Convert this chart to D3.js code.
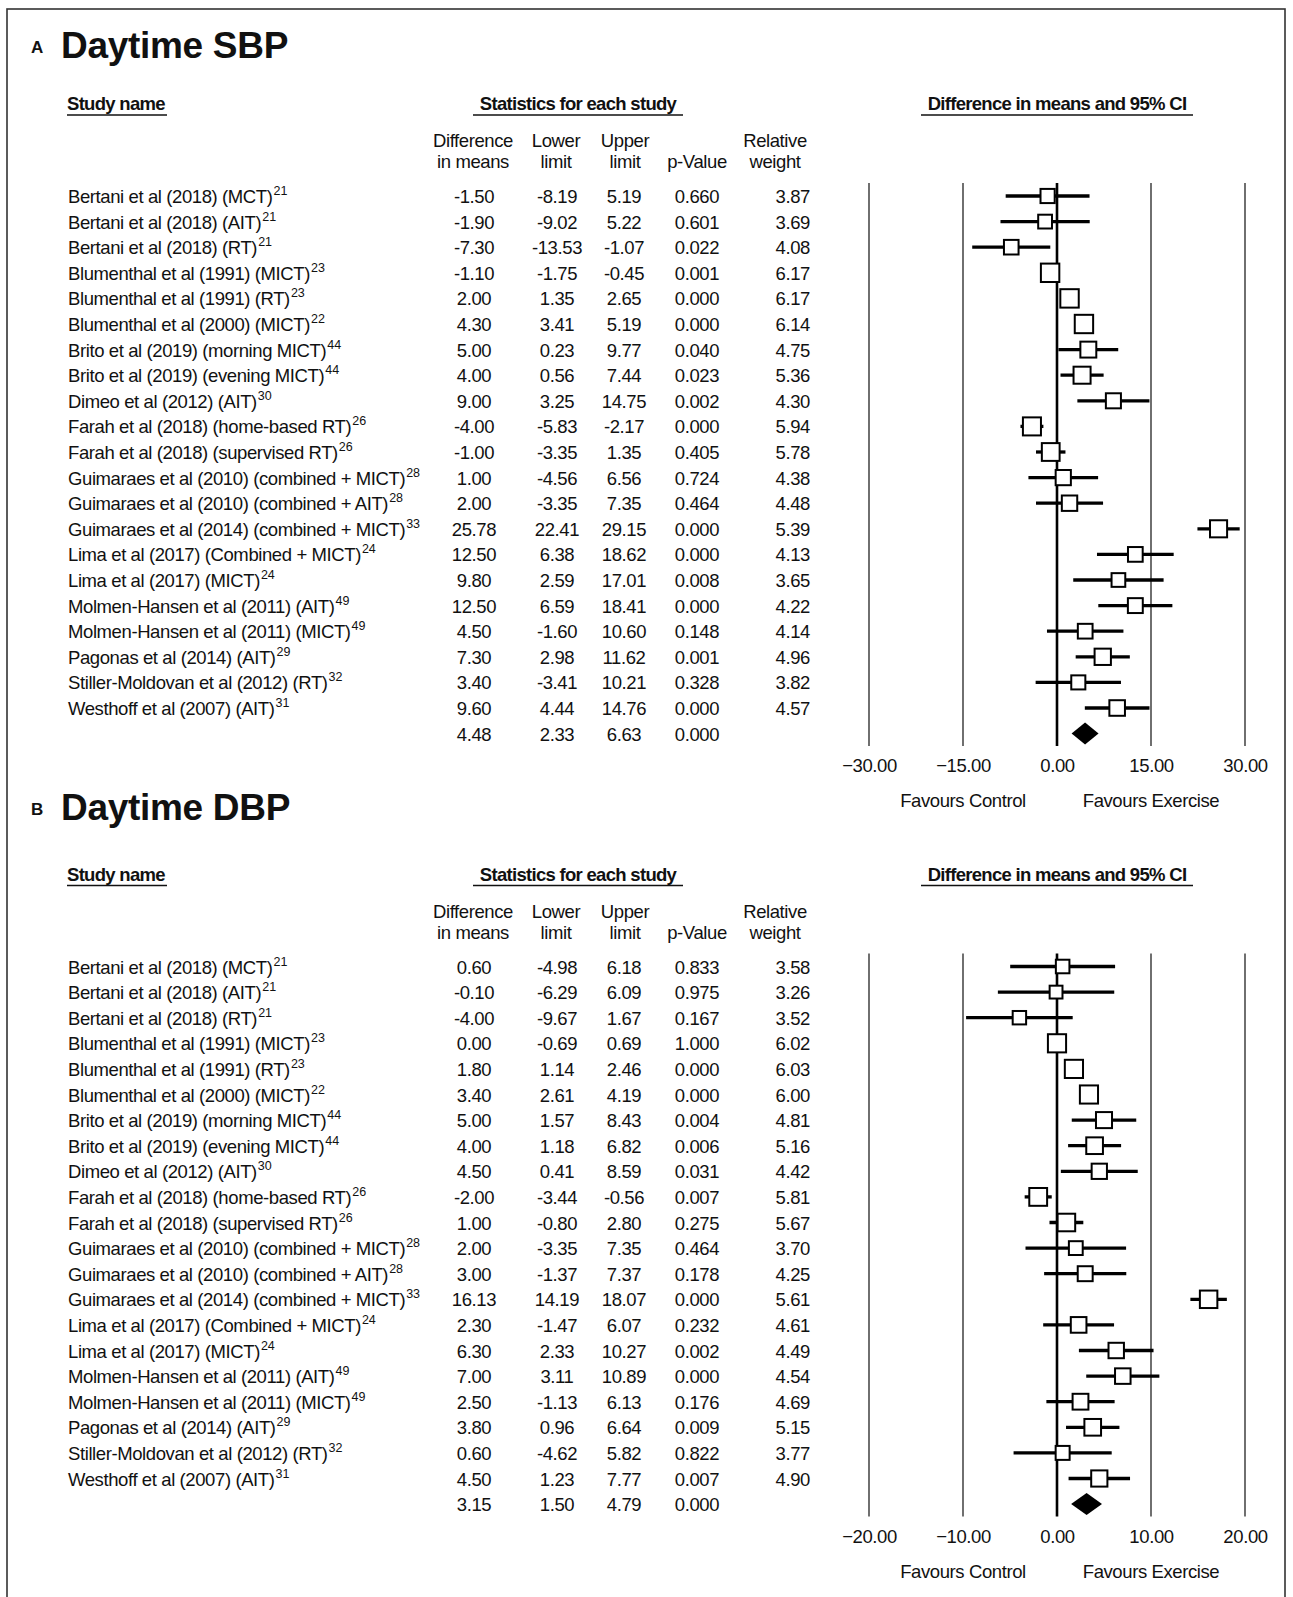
<!DOCTYPE html>
<html>
<head>
<meta charset="utf-8">
<script src="https://cdn.jsdelivr.net/npm/d3@7"></script>
<style>
  html, body { margin: 0; padding: 0; background: #fff; }
  svg text { font-family: "Liberation Sans", Arial, Helvetica, sans-serif; fill: #111; }
</style>
</head>
<body>
<svg id="chart" width="1293" height="1597"></svg>
<script>
// ---------- DATA ----------
const studyNames = [
  "Bertani et al (2018) (MCT)", "Bertani et al (2018) (AIT)", "Bertani et al (2018) (RT)",
  "Blumenthal  et al (1991) (MICT)", "Blumenthal  et al (1991) (RT)", "Blumenthal  et al (2000) (MICT)",
  "Brito et al (2019) (morning MICT)", "Brito et al (2019) (evening MICT)", "Dimeo et al (2012) (AIT)",
  "Farah et al (2018) (home-based RT)", "Farah et al (2018) (supervised RT)",
  "Guimaraes et al (2010) (combined + MICT)", "Guimaraes et al (2010) (combined + AIT)",
  "Guimaraes et al (2014) (combined + MICT)", "Lima et al (2017) (Combined + MICT)",
  "Lima et al (2017) (MICT)", "Molmen-Hansen et al (2011) (AIT)", "Molmen-Hansen et al (2011) (MICT)",
  "Pagonas et al (2014) (AIT)", "Stiller-Moldovan et al (2012) (RT)", "Westhoff et al (2007) (AIT)"
];
const studyRefs = ["21","21","21","23","23","22","44","44","30","26","26","28","28","33","24","24","49","49","29","32","31"];

// Panel A: Daytime SBP
const sbpDiff   = [-1.50,-1.90,-7.30,-1.10,2.00,4.30,5.00,4.00,9.00,-4.00,-1.00,1.00,2.00,25.78,12.50,9.80,12.50,4.50,7.30,3.40,9.60];
const sbpLower  = [-8.19,-9.02,-13.53,-1.75,1.35,3.41,0.23,0.56,3.25,-5.83,-3.35,-4.56,-3.35,22.41,6.38,2.59,6.59,-1.60,2.98,-3.41,4.44];
const sbpUpper  = [5.19,5.22,-1.07,-0.45,2.65,5.19,9.77,7.44,14.75,-2.17,1.35,6.56,7.35,29.15,18.62,17.01,18.41,10.60,11.62,10.21,14.76];
const sbpP      = [0.660,0.601,0.022,0.001,0.000,0.000,0.040,0.023,0.002,0.000,0.405,0.724,0.464,0.000,0.000,0.008,0.000,0.148,0.001,0.328,0.000];
const sbpWeight = [3.87,3.69,4.08,6.17,6.17,6.14,4.75,5.36,4.30,5.94,5.78,4.38,4.48,5.39,4.13,3.65,4.22,4.14,4.96,3.82,4.57];
const sbpSummary = [4.48, 2.33, 6.63, 0.000]; // diff, lower, upper, p
const sbpTicks = [-30, -15, 0, 15, 30];

// Panel B: Daytime DBP
const dbpDiff   = [0.60,-0.10,-4.00,0.00,1.80,3.40,5.00,4.00,4.50,-2.00,1.00,2.00,3.00,16.13,2.30,6.30,7.00,2.50,3.80,0.60,4.50];
const dbpLower  = [-4.98,-6.29,-9.67,-0.69,1.14,2.61,1.57,1.18,0.41,-3.44,-0.80,-3.35,-1.37,14.19,-1.47,2.33,3.11,-1.13,0.96,-4.62,1.23];
const dbpUpper  = [6.18,6.09,1.67,0.69,2.46,4.19,8.43,6.82,8.59,-0.56,2.80,7.35,7.37,18.07,6.07,10.27,10.89,6.13,6.64,5.82,7.77];
const dbpP      = [0.833,0.975,0.167,1.000,0.000,0.000,0.004,0.006,0.031,0.007,0.275,0.464,0.178,0.000,0.232,0.002,0.000,0.176,0.009,0.822,0.007];
const dbpWeight = [3.58,3.26,3.52,6.02,6.03,6.00,4.81,5.16,4.42,5.81,5.67,3.70,4.25,5.61,4.61,4.49,4.54,4.69,5.15,3.77,4.90];
const dbpSummary = [3.15, 1.50, 4.79, 0.000];
const dbpTicks = [-20, -10, 0, 10, 20];

// ---------- DRAW ----------
const svg = d3.select("#chart");
const FS = 18.5;           // body font size
const LS = "-0.4px";       // letter spacing

// frame
svg.append("rect").attr("x", 7).attr("y", 9).attr("width", 1278).attr("height", 1620)
  .attr("fill", "none").attr("stroke", "#333").attr("stroke-width", 1.6);

const sizeScale = d3.scaleSqrt().domain([0, 10]).range([0, 26]);

function panel(opts) {
  const g = svg.append("g").attr("transform", `translate(0,${opts.offset})`);
  const n = opts.names.length;
  const y = d3.scaleLinear().domain([0, n - 1]).range([196, 708]);
  const x = d3.scaleLinear().domain(d3.extent(opts.ticks)).range([869, 1245]);

  // Title
  svg.append("text").attr("x", 31).attr("y", opts.titleY - 5)
    .attr("font-size", 17).attr("font-weight", "bold").text(opts.letter);
  svg.append("text").attr("x", 61).attr("y", opts.titleY)
    .attr("font-size", 37).attr("font-weight", "bold").attr("letter-spacing", "-0.3px").text(opts.title);

  // Section headers (underlined)
  const heads = [
    {t: "Study name", x: 67, anchor: "start", ux: [67, 167]},
    {t: "Statistics for each study", x: 578, anchor: "middle", ux: [473, 683]},
    {t: "Difference in means and 95% CI", x: 1057, anchor: "middle", ux: [921, 1193]}
  ];
  heads.forEach(h => {
    g.append("text").attr("x", h.x).attr("y", 110).attr("text-anchor", h.anchor)
      .attr("font-size", 18.5).attr("font-weight", "bold").attr("letter-spacing", "-0.7px").text(h.t);
    g.append("line").attr("x1", h.ux[0]).attr("x2", h.ux[1]).attr("y1", 115).attr("y2", 115)
      .attr("stroke", "#111").attr("stroke-width", 1.6);
  });

  // Column headers
  const cols = [
    {l1: "Difference", l2: "in means", cx: 473},
    {l1: "Lower", l2: "limit", cx: 556},
    {l1: "Upper", l2: "limit", cx: 625},
    {l1: "", l2: "p-Value", cx: 697},
    {l1: "Relative", l2: "weight", cx: 775}
  ];
  cols.forEach(c => {
    g.append("text").attr("x", c.cx).attr("y", 147).attr("text-anchor", "middle")
      .attr("font-size", FS).attr("letter-spacing", LS).text(c.l1);
    g.append("text").attr("x", c.cx).attr("y", 168).attr("text-anchor", "middle")
      .attr("font-size", FS).attr("letter-spacing", LS).text(c.l2);
  });

  // Rows text
  const rows = opts.names.map((nm, i) => ({
    name: nm, ref: opts.refs[i], d: opts.diff[i], lo: opts.lower[i], hi: opts.upper[i],
    p: opts.p[i], w: opts.weight[i], i
  }));
  const numCols = [
    {key: "d", x: 474, fmt: v => v.toFixed(2), anchor: "middle"},
    {key: "lo", x: 557, fmt: v => v.toFixed(2), anchor: "middle"},
    {key: "hi", x: 624, fmt: v => v.toFixed(2), anchor: "middle"},
    {key: "p", x: 697, fmt: v => v.toFixed(3), anchor: "middle"},
    {key: "w", x: 810, fmt: v => v.toFixed(2), anchor: "end"}
  ];

  rows.forEach(r => {
    const yy = y(r.i) + 7;
    const t = g.append("text").attr("x", 68).attr("y", yy).attr("font-size", FS).attr("letter-spacing", LS);
    t.append("tspan").text(r.name);
    t.append("tspan").attr("dx", 1).attr("dy", -8).attr("font-size", 12.5).attr("letter-spacing", "0px").text(r.ref);
    numCols.forEach(c => {
      g.append("text").attr("x", c.x).attr("y", yy).attr("text-anchor", c.anchor)
        .attr("font-size", FS).attr("letter-spacing", LS).text(c.fmt(r[c.key]));
    });
  });

  // Summary row numbers
  const ySum = y(n);
  const sumVals = {d: opts.summary[0], lo: opts.summary[1], hi: opts.summary[2], p: opts.summary[3]};
  numCols.slice(0, 4).forEach(c => {
    g.append("text").attr("x", c.x).attr("y", ySum + 7).attr("text-anchor", c.anchor)
      .attr("font-size", FS).attr("letter-spacing", LS).text(c.fmt(sumVals[c.key]));
  });

  // Grid lines
  g.selectAll("line.grid").data(opts.ticks).enter().append("line")
    .attr("x1", d => x(d)).attr("x2", d => x(d)).attr("y1", 183).attr("y2", 746)
    .attr("stroke", d => d === 0 ? "#000" : "#333")
    .attr("stroke-width", d => d === 0 ? 2.6 : 1.4);

  // Axis labels
  const axis = d3.axisBottom(x).tickValues(opts.ticks).tickSize(0).tickPadding(13)
    .tickFormat(d3.format(".2f"));
  const ax = g.append("g").attr("transform", "translate(0,746)").call(axis);
  ax.select(".domain").remove();
  ax.selectAll("text").attr("font-size", FS).attr("letter-spacing", LS)
    .style("font-family", '"Liberation Sans", Arial, sans-serif').attr("fill", "#111");

  // Favours labels
  g.append("text").attr("x", x(opts.ticks[1])).attr("y", 807).attr("text-anchor", "middle")
    .attr("font-size", FS).attr("letter-spacing", LS).text("Favours Control");
  g.append("text").attr("x", x(opts.ticks[3])).attr("y", 807).attr("text-anchor", "middle")
    .attr("font-size", FS).attr("letter-spacing", LS).text("Favours Exercise");

  // CI lines
  g.selectAll("line.ci").data(rows).enter().append("line")
    .attr("x1", d => x(d.lo)).attr("x2", d => x(d.hi))
    .attr("y1", d => y(d.i)).attr("y2", d => y(d.i))
    .attr("stroke", "#000").attr("stroke-width", 3.3);

  // Squares
  g.selectAll("rect.sq").data(rows).enter().append("rect")
    .attr("x", d => x(d.d) - sizeScale(d.w) / 2 + 1)
    .attr("y", d => y(d.i) - sizeScale(d.w) / 2 + 1)
    .attr("width", d => sizeScale(d.w) - 2).attr("height", d => sizeScale(d.w) - 2)
    .attr("fill", "#fff").attr("stroke", "#000").attr("stroke-width", 2);

  // Summary diamond
  const s = opts.summary;
  const pts = [[x(s[1]), ySum], [x(s[0]), ySum - 11], [x(s[2]), ySum], [x(s[0]), ySum + 11]];
  g.append("path").attr("d", d3.line()(pts) + "Z").attr("fill", "#000");
}

panel({
  offset: 0, titleY: 58, letter: "A", title: "Daytime SBP",
  names: studyNames, refs: studyRefs,
  diff: sbpDiff, lower: sbpLower, upper: sbpUpper, p: sbpP, weight: sbpWeight,
  summary: sbpSummary, ticks: sbpTicks
});
panel({
  offset: 770.5, titleY: 820, letter: "B", title: "Daytime DBP",
  names: studyNames, refs: studyRefs,
  diff: dbpDiff, lower: dbpLower, upper: dbpUpper, p: dbpP, weight: dbpWeight,
  summary: dbpSummary, ticks: dbpTicks
});
</script>
</body>
</html>
